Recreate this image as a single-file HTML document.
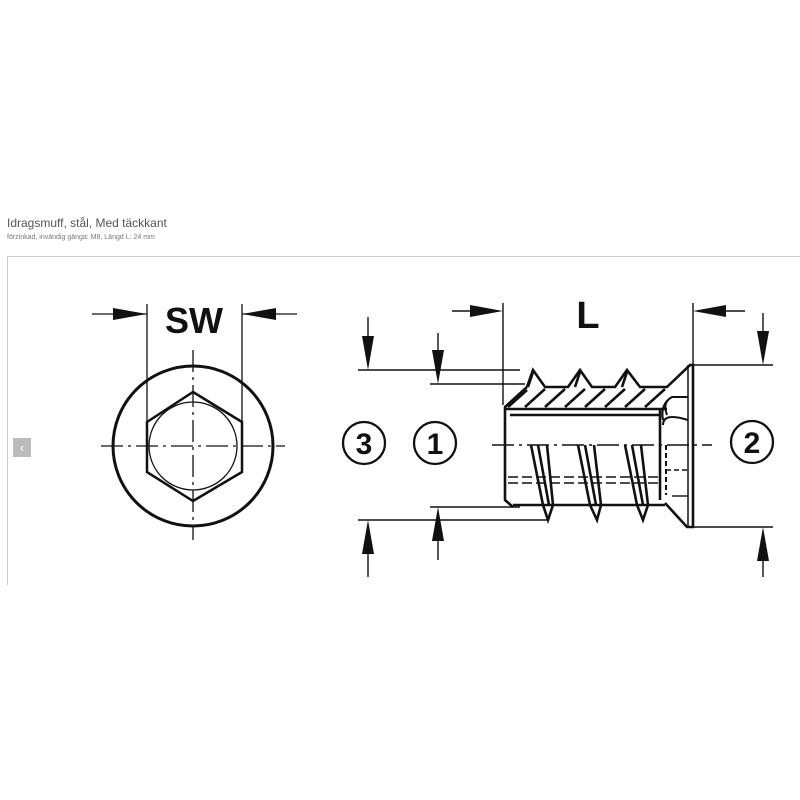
<!DOCTYPE html>
<html><head><meta charset="utf-8"><style>
html,body{margin:0;padding:0;background:#fff;width:800px;height:800px;overflow:hidden}
.t1{position:absolute;left:7px;top:216px;font:12px "Liberation Sans",sans-serif;color:#555}
.t2{position:absolute;left:7px;top:234px;font:7px "Liberation Sans",sans-serif;color:#777}
svg{position:absolute;left:0;top:0}
</style></head><body>
<div class="t1">Idragsmuff, stål, Med täckkant</div>
<div class="t2">förzinkad, invändig gänga: M8, Längd L: 24 mm</div>
<svg width="800" height="800" viewBox="0 0 800 800">
<line x1="7" y1="256.5" x2="800" y2="256.5" stroke="#ccc"/>
<line x1="7.5" y1="256" x2="7.5" y2="585" stroke="#ccc"/>
<rect x="13" y="438" width="18" height="19" fill="#bbb"/>
<text x="22" y="452" font-family="Liberation Sans" font-size="13" fill="#fff" text-anchor="middle">‹</text>

<g stroke="#111" fill="none" stroke-width="1.3">
<circle cx="193" cy="446" r="80" stroke-width="3"/>
<circle cx="193" cy="446" r="44"/>
<polygon points="193,392 242,422 242,472 193,501 147,472 147,422" stroke-width="2.5"/>
<line x1="147" y1="304" x2="147" y2="422"/>
<line x1="242" y1="304" x2="242" y2="422"/>
<line x1="101" y1="446" x2="285" y2="446" stroke-dasharray="22,5,3,5"/>
<line x1="193" y1="350" x2="193" y2="540" stroke-dasharray="22,5,3,5"/>
<line x1="92" y1="314" x2="147" y2="314"/>
<line x1="242" y1="314" x2="297" y2="314"/>
</g>
<g fill="#111">
<polygon points="147,314 113,308 113,320"/>
<polygon points="242,314 276,308 276,320"/>
<text x="194" y="333" font-family="Liberation Sans" font-weight="bold" font-size="36" text-anchor="middle">SW</text>
<text x="588" y="328" font-family="Liberation Sans" font-weight="bold" font-size="38" text-anchor="middle">L</text>
</g>

<g stroke="#111" fill="none" stroke-width="1.4">
<line x1="358" y1="370" x2="520" y2="370"/>
<line x1="430" y1="384" x2="525" y2="384"/>
<line x1="430" y1="507" x2="520" y2="507"/>
<line x1="358" y1="520" x2="548" y2="520"/>
<line x1="368" y1="317" x2="368" y2="340"/>
<line x1="368" y1="550" x2="368" y2="577"/>
<line x1="438" y1="333" x2="438" y2="355"/>
<line x1="438" y1="537" x2="438" y2="560"/>
<line x1="503" y1="303" x2="503" y2="405"/>
<line x1="452" y1="311" x2="470" y2="311"/>
<line x1="693" y1="303" x2="693" y2="365"/>
<line x1="745" y1="311" x2="720" y2="311"/>
<line x1="693" y1="365" x2="773" y2="365"/>
<line x1="693" y1="527" x2="773" y2="527"/>
<line x1="763" y1="313" x2="763" y2="335"/>
<line x1="763" y1="557" x2="763" y2="577"/>
<circle cx="364" cy="443" r="21" stroke-width="2.3"/>
<circle cx="435" cy="443" r="21" stroke-width="2.3"/>
<circle cx="752" cy="442" r="21" stroke-width="2.3"/>
<g stroke-width="2.6">
<polyline points="527,387 533,370 545,387 568,387 580,370 592,387 615,387 627,370 640,387 667,387 690,365 693,365 693,527 687,527 665,503"/>
<polyline points="527,387 505,407 505,500 513,507"/>
<line x1="505" y1="409" x2="667" y2="409"/>
<line x1="510" y1="415" x2="660" y2="415"/>
<line x1="660" y1="409" x2="660" y2="500"/>
<line x1="513" y1="505" x2="665" y2="505"/>
<line x1="688" y1="365" x2="688" y2="527" stroke-width="1.5"/>
<path d="M667,415 Q662,402 672,397 L688,397 M672,397 Q660,404 663,420 M663,425 Q663,412 688,420" stroke-width="2"/>
</g>
<g stroke-width="2.6">
<line x1="508" y1="407" x2="527" y2="390"/>
<line x1="525" y1="407" x2="545" y2="389"/>
<line x1="545" y1="407" x2="565" y2="389"/>
<line x1="565" y1="407" x2="585" y2="389"/>
<line x1="585" y1="407" x2="605" y2="389"/>
<line x1="605" y1="407" x2="625" y2="389"/>
<line x1="625" y1="407" x2="645" y2="389"/>
<line x1="645" y1="407" x2="665" y2="389"/>
<line x1="533" y1="372" x2="528" y2="387"/>
<line x1="580" y1="372" x2="575" y2="387"/>
<line x1="627" y1="372" x2="622" y2="387"/>
<polyline points="531,445 543,505 548,520 553,505 547,445"/>
<line x1="538" y1="445" x2="549" y2="505"/>
<polyline points="578,445 590,505 597,520 601,505 594,445"/>
<line x1="585" y1="445" x2="596" y2="505"/>
<polyline points="625,445 637,505 643,520 648,505 641,445"/>
<line x1="632" y1="445" x2="643" y2="505"/>
</g>
<line x1="492" y1="445" x2="712" y2="445" stroke-dasharray="22,5,3,5"/>
<line x1="508" y1="477" x2="660" y2="477" stroke-dasharray="10,4"/>
<line x1="508" y1="483" x2="660" y2="483" stroke-dasharray="10,4"/>
<line x1="666" y1="445" x2="666" y2="495" stroke-dasharray="5,3" stroke-width="2"/>
<line x1="666" y1="470" x2="688" y2="470" stroke-dasharray="5,3"/>
<line x1="672" y1="496" x2="688" y2="496"/>
</g>
<g fill="#111">
<polygon points="503,311 470,305 470,317"/>
<polygon points="693,311 726,305 726,317"/>
<polygon points="368,370 362,336 374,336"/>
<polygon points="368,520 362,554 374,554"/>
<polygon points="438,384 432,350 444,350"/>
<polygon points="438,507 432,541 444,541"/>
<polygon points="763,365 757,331 769,331"/>
<polygon points="763,527 757,561 769,561"/>
<g font-family="Liberation Sans" font-weight="bold" font-size="30" text-anchor="middle">
<text x="364" y="454">3</text>
<text x="435" y="454">1</text>
<text x="752" y="453">2</text>
</g>
</g>
</svg>
</body></html>
